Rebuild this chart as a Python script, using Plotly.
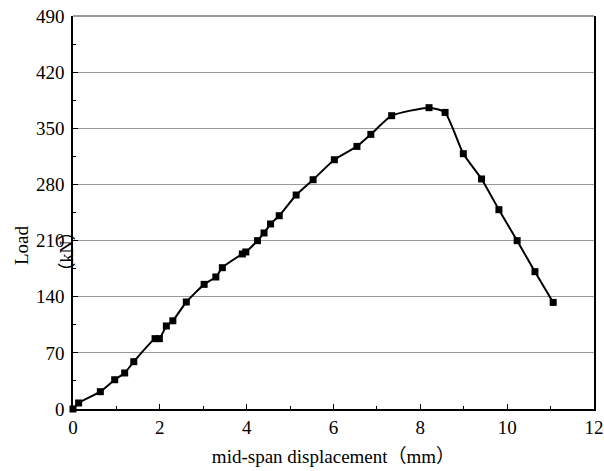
import plotly.graph_objects as go

# mid-span displacement (mm) and load (kN)
disp = [0.0, 0.13, 0.63, 0.96, 1.19, 1.40, 1.89, 1.99, 2.15, 2.30, 2.61, 3.02, 3.29,
        3.44, 3.90, 3.98, 4.25, 4.40, 4.55, 4.75, 5.14, 5.53, 6.02, 6.54, 6.86, 7.34,
        8.20, 8.57, 8.99, 9.41, 9.81, 10.23, 10.64, 11.06]
load = [0.0, 7.5, 21.6, 36.5, 44.9, 59.0, 87.7, 87.7, 103.5, 110.0, 133.4, 155.4, 164.6,
        176.2, 193.3, 195.8, 209.9, 219.5, 230.7, 241.0, 266.8, 285.9, 310.8, 327.4, 342.4,
        365.7, 375.7, 369.8, 318.3, 286.8, 248.5, 209.9, 171.2, 132.9]

x_ticks = [0, 2, 4, 6, 8, 10, 12]
y_ticks = [0, 70, 140, 210, 280, 350, 420, 490]

x_title = "mid-span displacement（mm）"
y_title_a = "Load"
y_title_b = "（kN）"

FONT = "Liberation Serif, Times New Roman, Noto Sans CJK SC, serif"

fig = go.Figure()
fig.add_trace(go.Scatter(
    x=disp, y=load, mode="lines+markers",
    line=dict(color="black", width=2, shape="spline", smoothing=0.5),
    marker=dict(symbol="square", size=7, color="black"),
    showlegend=False, cliponaxis=False,
))

fig.update_layout(
    width=604, height=471,
    margin=dict(l=73, r=10, t=16, b=62),
    plot_bgcolor="white", paper_bgcolor="white",
    font=dict(family=FONT, size=19, color="black"),
    xaxis=dict(
        range=[0, 12], tickvals=x_ticks, ticktext=[str(v) for v in x_ticks],
        ticks="inside", ticklen=5, tickwidth=1, tickcolor="black",
        minor=dict(dtick=1, ticks="inside", ticklen=3, tickcolor="black", showgrid=False),
        showline=True, linecolor="black", linewidth=1.5, mirror=False,
        showgrid=False, zeroline=False, automargin=False, ticklabeloverflow="allow",
        title=dict(text=x_title, font=dict(size=19, family=FONT), standoff=13),
        tickfont=dict(size=19),
    ),
    yaxis=dict(
        range=[0, 490], tickvals=y_ticks, ticktext=[str(v) for v in y_ticks],
        ticks="inside", ticklen=5, tickwidth=1, tickcolor="black",
        minor=dict(dtick=35, tick0=0, ticks="inside", ticklen=3, tickcolor="black", showgrid=False),
        showline=True, linecolor="black", linewidth=1.5, mirror=True,
        showgrid=True, gridcolor="#9a9a9a", gridwidth=1, zeroline=False,
        automargin=False, ticklabelstandoff=3, ticklabeloverflow="allow",
        tickfont=dict(size=19),
    ),
)

# top frame edge (grey, like the gridlines)
fig.add_shape(type="line", xref="paper", yref="paper", x0=0, x1=1, y0=1, y1=1,
              line=dict(color="#7a7a7a", width=1.5))

fig.add_annotation(text=y_title_a, xref="paper", yref="paper", x=-0.100, y=0.417,
                   xanchor="center", yanchor="middle", textangle=-90, showarrow=False,
                   font=dict(size=19, family=FONT))
fig.add_annotation(text=y_title_b, xref="paper", yref="paper", x=-0.012, y=0.40,
                   xanchor="center", yanchor="middle", textangle=-90, showarrow=False,
                   font=dict(size=18, family=FONT))

fig.write_html("out.html", config={"displayModeBar": False},
               post_script="document.body.style.margin='0';")
